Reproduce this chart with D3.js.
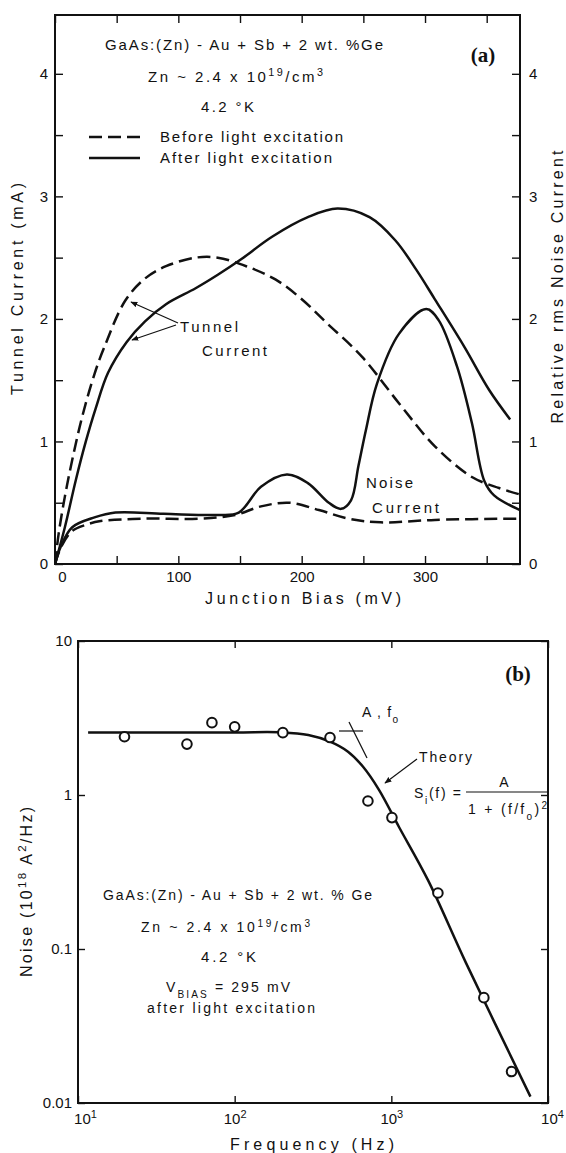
<!DOCTYPE html>
<html><head><meta charset="utf-8">
<script src="https://cdn.jsdelivr.net/npm/d3@7"></script>
<style>
body{margin:0;background:#fff}
svg{display:block}
text{font-family:"Liberation Sans",Arial,sans-serif;fill:#111}
</style>
</head><body>
<svg id="c" width="566" height="1153"></svg>
<script>
// ---------- Panel (a) data ----------
const biasTicks = [0, 50, 100, 150, 200, 250, 300, 350];
const biasLabels = [0, 100, 200, 300];
const currentTicks = [0, 0.5, 1, 1.5, 2, 2.5, 3, 3.5, 4];
const currentLabels = [0, 1, 2, 3, 4];
// [bias mV, tunnel current mA]
const tunnelBefore = [[0,0],[3,0.25],[8,0.55],[14,0.85],[22,1.2],[32,1.55],[40,1.77],[57,2.15],[73,2.33],[90,2.43],[114,2.5],[132,2.5],[155,2.43],[179,2.32],[199,2.17],[220,1.97],[249,1.69],[279,1.31],[308,0.96],[338,0.71],[360,0.62],[376,0.57]];
const tunnelAfter = [[0,0],[8,0.3],[17,0.69],[25,1.0],[33,1.27],[43,1.56],[58,1.81],[73,1.98],[90,2.12],[114,2.25],[132,2.36],[150,2.48],[176,2.67],[205,2.83],[229,2.9],[255,2.83],[276,2.64],[293,2.4],[308,2.16],[332,1.77],[352,1.42],[369,1.18]];
// [bias mV, relative rms noise current]
const noiseBefore = [[0,0],[5,0.14],[14,0.27],[25,0.32],[37,0.35],[73,0.37],[117,0.37],[146,0.4],[167,0.47],[190,0.5],[214,0.44],[238,0.37],[264,0.34],[308,0.36],[377,0.37]];
const noiseAfter = [[0,0],[5,0.15],[14,0.3],[32,0.38],[49,0.42],[88,0.41],[132,0.4],[149,0.42],[167,0.63],[188,0.73],[205,0.66],[222,0.5],[232,0.45],[240,0.52],[246,0.8],[252,1.09],[261,1.47],[279,1.88],[301,2.08],[311,1.99],[326,1.61],[338,1.15],[348,0.68],[356,0.56],[377,0.44]];

// ---------- Panel (b) data ----------
const freqTicks = [10, 100, 1000, 10000];
const noiseTicks = [0.01, 0.1, 1, 10];
const noiseTickLabels = ["0.01", "0.1", "1", "10"];
const measFreq  = [19.8, 49.6, 71.6, 100, 203, 406, 709, 1009, 1983, 3896, 5850];
const measNoise = [2.39, 2.14, 2.95, 2.77, 2.54, 2.36, 0.914, 0.713, 0.231, 0.0483, 0.016];
const theoryFreq  = [11.6, 100, 200, 295, 406, 529, 658, 834, 1119, 1714, 3000, 7725];
const theoryNoise = [2.55, 2.55, 2.55, 2.45, 2.22, 1.91, 1.53, 1.08, 0.62, 0.28, 0.081, 0.011];

const svg = d3.select("#c");
const defs = svg.append("defs");
defs.append("marker").attr("id","arr").attr("viewBox","0 0 10 10").attr("refX",9).attr("refY",5)
  .attr("markerWidth",7).attr("markerHeight",7).attr("markerUnits","userSpaceOnUse").attr("orient","auto")
  .append("path").attr("d","M0,1 L10,5 L0,9 Z").attr("fill","#111");

function txt(g, x, y, parts, o = {}) {
  const t = g.append("text").attr("x", x).attr("y", y)
    .attr("font-size", o.size || 14).attr("text-anchor", o.anchor || "start");
  if (o.len) t.attr("textLength", o.len).attr("lengthAdjust", "spacing");
  if (o.weight) t.attr("font-weight", o.weight);
  if (o.family) t.style("font-family", o.family);
  if (o.rotate) t.attr("transform", `rotate(${o.rotate},${x},${y})`);
  (typeof parts === "string" ? [[parts]] : parts).forEach(p => {
    const s = t.append("tspan").text(p[0]);
    if (p[1] === "sup") s.attr("baseline-shift", "super").attr("font-size", (o.size || 14) * 0.72);
    if (p[1] === "sub") s.attr("baseline-shift", "sub").attr("font-size", (o.size || 14) * 0.72);
  });
  return t;
}
function styleAxis(g) {
  g.select(".domain").remove();
  g.selectAll(".tick line").attr("stroke", "#111").attr("stroke-width", 1.4);
  g.selectAll(".tick text").attr("font-size", 15).style("font-family", '"Liberation Sans",Arial,sans-serif').attr("fill", "#111");
}

// ================= Panel (a) =================
const xA = d3.scaleLinear().domain([0, 377]).range([55, 520]);
const yA = d3.scaleLinear().domain([0, 4.48]).range([564, 15]);
const gA = svg.append("g");

gA.append("g").attr("transform", "translate(0,564)")
  .call(d3.axisBottom(xA).tickValues(biasTicks).tickSize(-8).tickPadding(7)
    .tickFormat(d => biasLabels.includes(d) ? d : ""))
  .call(styleAxis)
  .call(g => g.selectAll(".tick").filter(d => d === 0).select("text").attr("x", 7));
gA.append("g").attr("transform", "translate(0,15)")
  .call(d3.axisTop(xA).tickValues(biasTicks).tickSize(-8).tickFormat("")).call(styleAxis);
gA.append("g").attr("transform", "translate(55,0)")
  .call(d3.axisLeft(yA).tickValues(currentTicks).tickSize(-8).tickPadding(7)
    .tickFormat(d => currentLabels.includes(d) ? d : "")).call(styleAxis);
gA.append("g").attr("transform", "translate(520,0)")
  .call(d3.axisRight(yA).tickValues(currentTicks).tickSize(-8).tickPadding(9)
    .tickFormat(d => currentLabels.includes(d) ? d : "")).call(styleAxis);

gA.append("rect").attr("x", 55).attr("y", 15).attr("width", 465).attr("height", 549)
  .attr("fill", "none").attr("stroke", "#111").attr("stroke-width", 2);

defs.append("clipPath").attr("id", "clipA").append("rect").attr("x", 55).attr("y", 15).attr("width", 465).attr("height", 549);
const lineA = d3.line().x(d => xA(d[0])).y(d => yA(d[1])).curve(d3.curveCatmullRom.alpha(0.5));
const curvesA = gA.append("g").attr("clip-path", "url(#clipA)");
[[tunnelBefore, true], [tunnelAfter, false], [noiseBefore, true], [noiseAfter, false]].forEach(([d, dashed]) => {
  curvesA.append("path").attr("d", lineA(d)).attr("fill", "none").attr("stroke", "#111")
    .attr("stroke-width", 2.5).attr("stroke-dasharray", dashed ? "13,6" : null);
});

// annotations (a)
txt(gA, 105, 50, "GaAs:(Zn) - Au + Sb +  2 wt. %Ge", {size: 15, len: 278});
txt(gA, 148, 82, [["Zn ~ 2.4  x  10"], ["19", "sup"], ["/cm"], ["3", "sup"]], {size: 15, len: 175});
txt(gA, 201, 112, "4.2 °K", {size: 15, len: 53});
gA.append("line").attr("x1", 89).attr("x2", 140).attr("y1", 137).attr("y2", 137)
  .attr("stroke", "#111").attr("stroke-width", 2.5).attr("stroke-dasharray", "13,6");
gA.append("line").attr("x1", 89).attr("x2", 140).attr("y1", 158).attr("y2", 158)
  .attr("stroke", "#111").attr("stroke-width", 2.5);
txt(gA, 160, 142, "Before  light  excitation", {size: 15, len: 183});
txt(gA, 160, 163, "After  light  excitation", {size: 15, len: 172});
txt(gA, 483, 62, "(a)", {size: 21, anchor: "middle", weight: "bold", family: '"Liberation Serif",serif'});
txt(gA, 180, 332, "Tunnel", {size: 15, len: 58});
txt(gA, 202, 356, "Current", {size: 15, len: 65});
gA.append("line").attr("x1", 178).attr("y1", 323).attr("x2", 131).attr("y2", 302)
  .attr("stroke", "#111").attr("stroke-width", 1.2).attr("marker-end", "url(#arr)");
gA.append("line").attr("x1", 176).attr("y1", 325).attr("x2", 132).attr("y2", 340)
  .attr("stroke", "#111").attr("stroke-width", 1.2).attr("marker-end", "url(#arr)");
txt(gA, 366, 488, "Noise", {size: 15, len: 47});
txt(gA, 372, 513, "Current", {size: 15, len: 67});

// axis titles (a)
txt(gA, 303, 604, "Junction  Bias  (mV)", {size: 16, anchor: "middle", len: 196});
txt(gA, 23, 289, "Tunnel  Current  (mA)", {size: 16, anchor: "middle", len: 212, rotate: -90});
txt(gA, 563, 287, "Relative  rms  Noise  Current", {size: 16, anchor: "middle", len: 273, rotate: -90});

// ================= Panel (b) =================
const xB = d3.scaleLog().domain([10, 10000]).range([78, 548]);
const yB = d3.scaleLog().domain([0.01, 10]).range([1103, 641]);
const gB = svg.append("g");

gB.append("g").attr("transform", "translate(0,1103)")
  .call(d3.axisBottom(xB).tickValues(freqTicks).tickSize(-7).tickPadding(10).tickFormat(d => d))
  .call(styleAxis)
  .call(g => g.selectAll(".tick text").each(function(d) {
    const t = d3.select(this); t.text("10");
    t.append("tspan").attr("baseline-shift", "super").attr("font-size", 11).text(Math.round(Math.log10(d)));
    if (d === 10) t.attr("x", 7);
    if (d === 10000) t.attr("x", 4);
  }));
gB.append("g").attr("transform", "translate(0,641)")
  .call(d3.axisTop(xB).tickValues(freqTicks).tickSize(-7).tickFormat("")).call(styleAxis);
gB.append("g").attr("transform", "translate(78,0)")
  .call(d3.axisLeft(yB).tickValues(noiseTicks).tickSize(-7).tickPadding(6)
    .tickFormat((d, i) => noiseTickLabels[i])).call(styleAxis);
gB.append("g").attr("transform", "translate(548,0)")
  .call(d3.axisRight(yB).tickValues(noiseTicks).tickSize(-7).tickFormat("")).call(styleAxis);

gB.append("rect").attr("x", 78).attr("y", 641).attr("width", 470).attr("height", 462)
  .attr("fill", "none").attr("stroke", "#111").attr("stroke-width", 2);

const lineB = d3.line().x((d, i) => xB(theoryFreq[i])).y((d, i) => yB(theoryNoise[i])).curve(d3.curveCatmullRom.alpha(0.5));
gB.append("path").attr("d", lineB(theoryFreq)).attr("fill", "none").attr("stroke", "#111").attr("stroke-width", 2.5);
gB.selectAll("circle.m").data(measFreq).join("circle").attr("class", "m")
  .attr("cx", d => xB(d)).attr("cy", (d, i) => yB(measNoise[i])).attr("r", 4.8)
  .attr("fill", "#fff").attr("stroke", "#111").attr("stroke-width", 2);

// annotations (b)
txt(gB, 518, 681, "(b)", {size: 21, anchor: "middle", weight: "bold", family: '"Liberation Serif",serif'});
txt(gB, 362, 717, [["A , f"], ["o", "sub"]], {size: 14, len: 36});
gB.append("line").attr("x1", 339).attr("x2", 363).attr("y1", 731).attr("y2", 731).attr("stroke", "#111").attr("stroke-width", 1.2);
gB.append("line").attr("x1", 349).attr("x2", 367).attr("y1", 722).attr("y2", 758).attr("stroke", "#111").attr("stroke-width", 1.2);
txt(gB, 419, 762, "Theory", {size: 14, len: 53});
gB.append("line").attr("x1", 417).attr("y1", 759).attr("x2", 385).attr("y2", 783)
  .attr("stroke", "#111").attr("stroke-width", 1.2).attr("marker-end", "url(#arr)");
txt(gB, 414, 798, [["S"], ["i", "sub"], ["(f) = "]], {size: 14, len: 47});
txt(gB, 504, 787, "A", {size: 14, anchor: "middle"});
gB.append("line").attr("x1", 466).attr("x2", 548).attr("y1", 792).attr("y2", 792).attr("stroke", "#111").attr("stroke-width", 1.2);
txt(gB, 468, 814, [["1 + (f/f"], ["o", "sub"], [")"], ["2", "sup"]], {size: 14, len: 79});

txt(gB, 103, 900, "GaAs:(Zn) - Au + Sb + 2 wt. % Ge", {size: 14, len: 269});
txt(gB, 141, 932, [["Zn ~ 2.4 x 10"], ["19", "sup"], ["/cm"], ["3", "sup"]], {size: 14, len: 169});
txt(gB, 201, 962, "4.2 °K", {size: 15, len: 55});
txt(gB, 166, 992, [["V"], ["BIAS", "sub"], [" = 295  mV"]], {size: 14, len: 124});
txt(gB, 147, 1013, "after  light  excitation", {size: 14, len: 168});

// axis titles (b)
txt(gB, 312, 1150, "Frequency   (Hz)", {size: 16, anchor: "middle", len: 164});
txt(gB, 32, 892, [["Noise  (10"], ["18", "sup"], [" A"], ["2", "sup"], ["/Hz)"]], {size: 16, anchor: "middle", len: 170, rotate: -90});
</script>
</body></html>
